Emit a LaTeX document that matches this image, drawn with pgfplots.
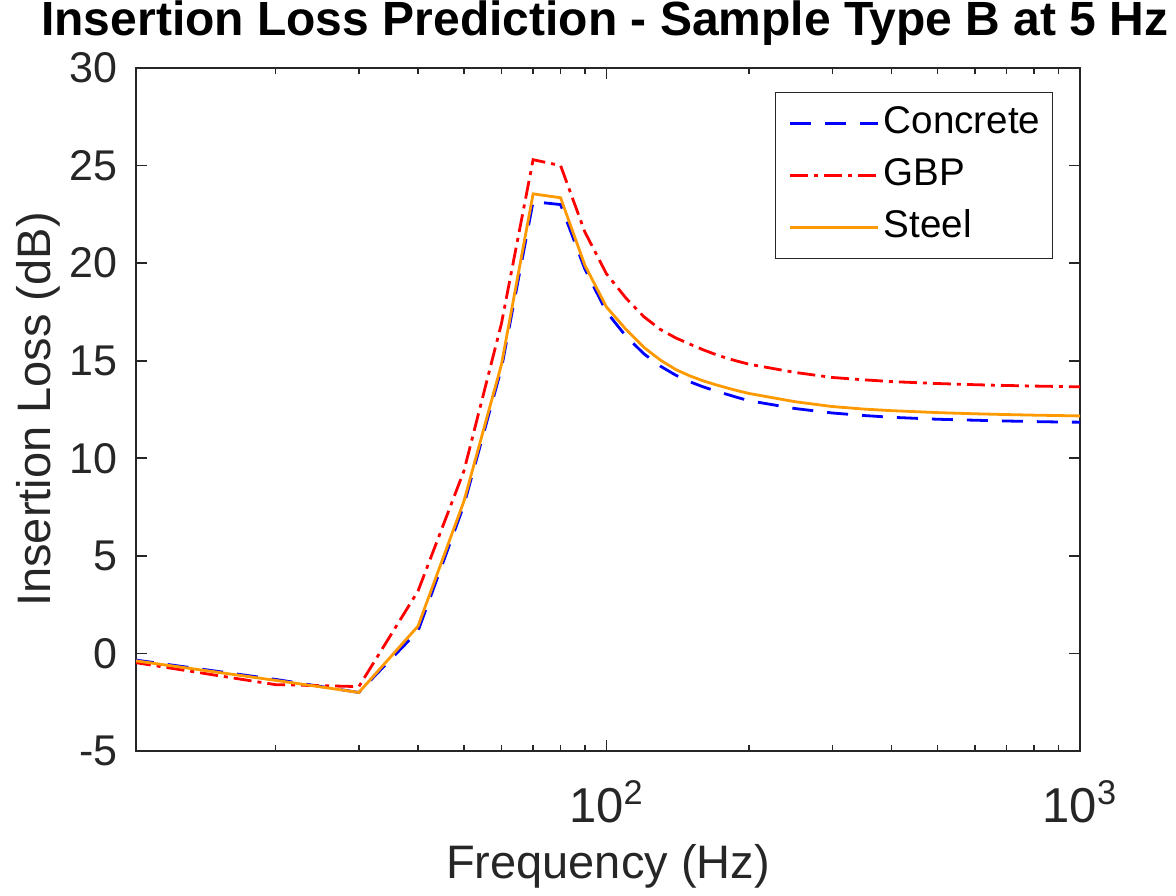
\documentclass[border=0pt]{standalone}
\usepackage{fontspec}
\setmainfont{Liberation Sans}
\usepackage{pgfplots}
\usepackage{pgfplotstable}
\pgfplotsset{compat=1.18}
\definecolor{axgray}{rgb}{0.15,0.15,0.15}
\definecolor{steelc}{rgb}{1,0.6,0}

% f [Hz], insertion loss [dB]
\pgfplotstableread{
f     concrete  gbp     steel
10    -0.32     -0.45   -0.36
20    -1.33     -1.60   -1.38
30    -2.00     -1.70   -2.00
40     1.15      3.20    1.40
50     7.60      9.35    7.80
60    14.60     16.90   14.80
70    23.15     25.30   23.55
80    23.00     25.00   23.35
90    19.70     21.60   19.90
100   17.50     19.45   17.75
110   16.25     18.20   16.60
120   15.35     17.25   15.68
130   14.72     16.60   15.03
140   14.26     16.17   14.55
150   13.92     15.85   14.22
160   13.66     15.56   13.97
170   13.45     15.32   13.77
180   13.27     15.12   13.60
190   13.10     14.96   13.45
200   12.95     14.82   13.32
250   12.55     14.40   12.90
300   12.32     14.14   12.65
350   12.19     14.02   12.52
400   12.10     13.93   12.44
500   12.00     13.83   12.34
600   11.95     13.77   12.28
700   11.91     13.73   12.24
800   11.88     13.70   12.21
900   11.86     13.68   12.19
1000  11.85     13.66   12.17
}\ildata

\begin{document}
\begin{tikzpicture}
\begin{axis}[
    name=main,
    scale only axis,
    width=472pt, height=341.5pt,
    xmode=log,
    xmin=10.15, xmax=1000,
    ymin=-5, ymax=30,
    xtick={100,1000},
    xticklabels={10\textsuperscript{2},10\textsuperscript{3}},
    minor xtick={20,30,40,50,60,70,80,90,200,300,400,500,600,700,800,900},
    ytick={-5,0,5,10,15,20,25,30},
    yticklabels={-5,0,5,10,15,20,25,30},
    tick align=inside,
    major tick length=5.5pt,
    minor tick length=3pt,
    every tick/.style={axgray, line width=0.8pt},
    axis line style={axgray, line width=0.8pt},
    tick label style={font=\fontsize{21.5}{24}\selectfont, text=axgray},
    xticklabel style={font=\fontsize{24.5}{27}\selectfont, anchor=base, yshift=-36pt, inner sep=0pt},
    yticklabel style={anchor=east, xshift=-9pt, inner sep=0pt},
    title={Insertion Loss Prediction - Sample Type B at 5 Hz},
    title style={font=\fontsize{24}{27}\selectfont\bfseries, at={(axis description cs:0.4968,1.0293)}, anchor=base, inner sep=0pt},
    xlabel={Frequency (Hz)},
    xlabel style={font=\fontsize{23.5}{26}\selectfont, text=axgray, at={(axis description cs:0.5,-0.186)}, anchor=base, inner sep=0pt},
    ylabel={Insertion Loss (dB)},
    ylabel style={font=\fontsize{23.5}{26}\selectfont, text=axgray, at={(axis description cs:-0.0911,0.5)}, anchor=base, inner sep=0pt},
    legend cell align=left,
    legend image code/.code={\path[draw=none, fill=none] (0pt,0pt) (48pt,0pt); \draw[#1] (3pt,0pt) -- (47pt,0pt);},
    legend style={at={(1,1)}, anchor=north east, xshift=-13.5pt, yshift=-12pt,
        draw=axgray, line width=0.6pt, fill=white,
        font=\fontsize{19.3}{22}\selectfont,
        inner xsep=4pt, inner ysep=4.5pt, row sep=4pt,
        nodes={inner sep=2pt, text height=14pt, text depth=4pt}},
]
\addplot[blue, line width=1.4pt, dash pattern=on 10.5pt off 7pt] table[x=f, y=concrete] {\ildata};
\addlegendentry{Concrete}
\addplot[red, line width=1.4pt, dash pattern=on 9pt off 3pt on 2pt off 3pt] table[x=f, y=gbp] {\ildata};
\addlegendentry{GBP}
\addplot[steelc, line width=1.4pt] table[x=f, y=steel] {\ildata};
\addlegendentry{Steel}
\end{axis}
\pgfresetboundingbox
\path ([xshift=-68pt, yshift=-72.5pt]main.south west) rectangle ([xshift=48pt, yshift=34pt]main.north east);
\end{tikzpicture}
\end{document}
